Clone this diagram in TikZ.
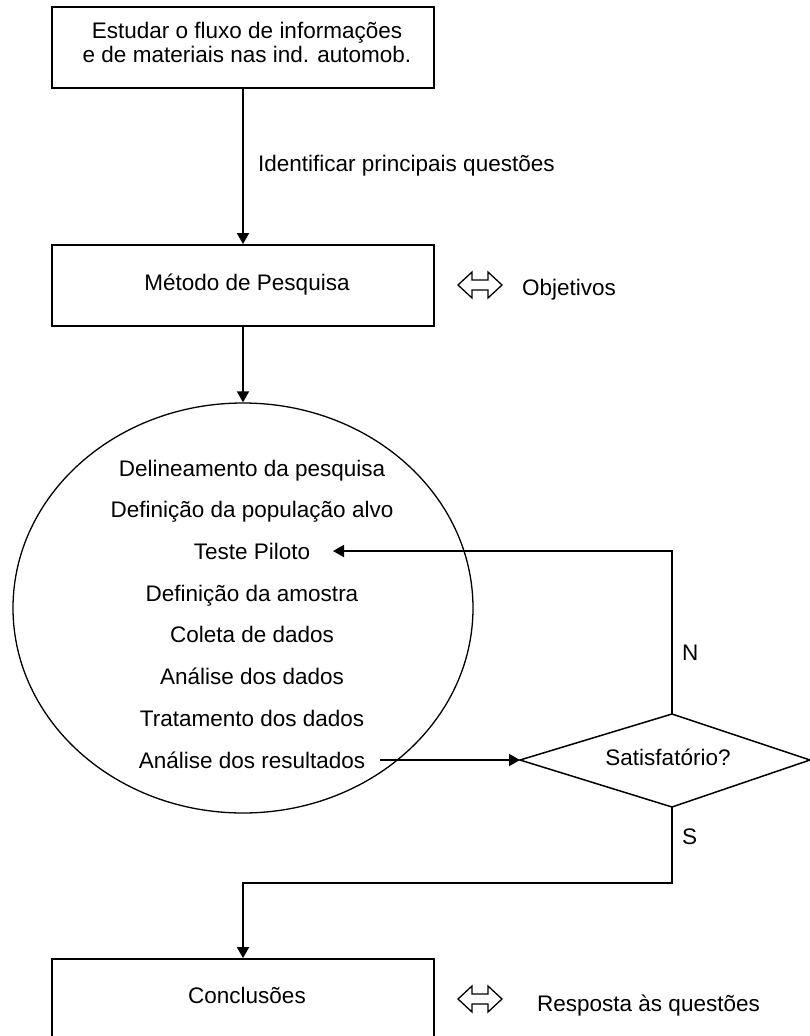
\documentclass[tikz,border=0pt]{standalone}
\usepackage{fontspec}
\setmainfont{Liberation Sans}
\usetikzlibrary{arrows.meta,shapes.geometric}
\begin{document}
\begin{tikzpicture}[x=1pt,y=-1pt,
  box/.style={draw, line width=1.8pt, minimum width=382pt, minimum height=81pt, inner sep=0pt},
  txt/.style={anchor=base, inner sep=0pt, font=\fontsize{22.5}{24}\selectfont},
  ltxt/.style={txt, anchor=base west},
  conn/.style={line width=1.8pt},
  arr/.style={conn, -{Triangle[length=11pt,width=12pt]}},
  pics/dblarrow/.style={code={
    \draw[line width=1.3pt, line join=miter]
      (-22,0) -- (-8,-13) -- (-8,-5) -- (8,-5) -- (8,-13) -- (22,0)
      -- (8,13) -- (8,5) -- (-8,5) -- (-8,13) -- cycle;}},
]
\useasboundingbox (0,0) rectangle (810,1036);
\clip (0,0) rectangle (810,1036);

% process boxes
\node[box] (study) at (243,47.5) {};
\node[txt] (study1) at (247,38) {Estudar o fluxo de informações};
\node[txt] (study2) at (247,62) {e de materiais nas ind. automob.};

\node[box] (method) at (243,285.5) {};
\node[txt] (methodt) at (247,290) {Método de Pesquisa};

\node[box] (concl) at (243,999.5) {};
\node[txt] (conclt) at (247,1003) {Conclusões};

% research steps
\node[ellipse, draw, line width=1.3pt, minimum width=460pt, minimum height=410pt, inner sep=0pt] (steps) at (243,608) {};
\node[txt] (s1) at (252,476) {Delineamento da pesquisa};
\node[txt] (s2) at (252,517.7) {Definição da população alvo};
\node[txt] (s3) at (252,559.4) {Teste Piloto};
\node[txt] (s4) at (252,601.1) {Definição da amostra};
\node[txt] (s5) at (252,642.8) {Coleta de dados};
\node[txt] (s6) at (252,684.5) {Análise dos dados};
\node[txt] (s7) at (252,726.2) {Tratamento dos dados};
\node[txt] (s8) at (252,768) {Análise dos resultados};

% decision
\coordinate (dL) at (520,760);
\coordinate (dT) at (672,714);
\coordinate (dR) at (810,760);
\coordinate (dB) at (672,807);
\draw[line width=1.5pt, line join=miter] (dL) -- (dT) -- (dR) -- (dB) -- cycle;
\node[txt] (dec) at (668,765) {Satisfatório?};

% connectors
\draw[arr] (study.south) -- (method.north);
\node[ltxt] (ident) at (258,171) {Identificar principais questões};
\draw[arr] (method.south) -- (steps.north);

\coordinate (tpin) at (333,551);
\draw[arr] (dT) |- (tpin);
\node[ltxt] (no) at (682,660) {N};

\coordinate (resout) at (380,760);
\draw[arr] (resout) -- (dL);

\coordinate (sbend) at (672,883);
\draw[arr] (dB) -- (sbend) -| (concl.north);
\node[ltxt] (yes) at (682,844) {S};

% equivalences
\pic (eqobj) at (480,285) {dblarrow};
\node[ltxt] (obj) at (522,295) {Objetivos};
\pic (eqres) at (480,999) {dblarrow};
\node[ltxt] (resp) at (537,1011) {Resposta às questões};
\end{tikzpicture}
\end{document}
